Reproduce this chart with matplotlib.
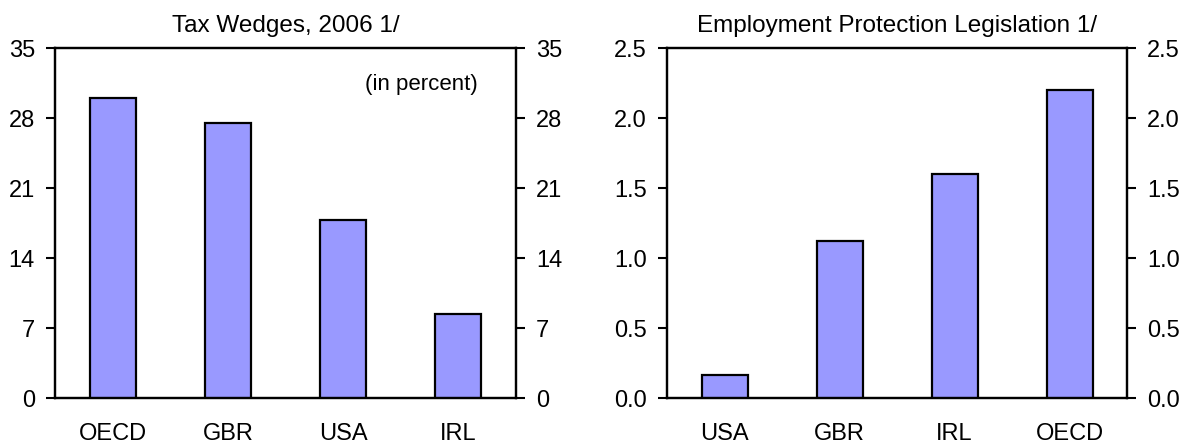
import matplotlib
matplotlib.use("Agg")
import matplotlib.pyplot as plt
import numpy as np

plt.rcParams['font.family'] = ['Liberation Sans', 'DejaVu Sans']

# left panel: tax wedges 2006 (in percent)
tax_countries = ['OECD', 'GBR', 'USA', 'IRL']
tax_values = [30.0, 27.5, 17.8, 8.4]
tax_ticks = [0, 7, 14, 21, 28, 35]

# right panel: employment protection legislation index
epl_countries = ['USA', 'GBR', 'IRL', 'OECD']
epl_values = [0.17, 1.12, 1.60, 2.20]
epl_ticks = [0.0, 0.5, 1.0, 1.5, 2.0, 2.5]

W, H = 1191, 444
fig = plt.figure(figsize=(W / 100, H / 100), dpi=100)

bar_color = '#9999FF'
fs = 17


def panel(rect, names, vals, ticks, fmt, title):
    ax = fig.add_axes(rect)
    x = np.arange(len(names))
    ax.bar(x, vals, width=0.4, color=bar_color, edgecolor='black', linewidth=1.6, zorder=3)
    ax.set_xlim(-0.5, len(names) - 0.5)
    ax.set_ylim(ticks[0], ticks[-1])
    ax.set_xticks(x)
    ax.set_xticklabels(names, fontsize=fs)
    ax.tick_params(axis='x', length=0, pad=18)
    ax.set_yticks(ticks)
    ax.set_yticklabels([fmt.format(t) for t in ticks], fontsize=fs)
    ax.tick_params(axis='y', direction='out', length=6.5, width=1.5, pad=8)
    for s in ax.spines.values():
        s.set_linewidth(1.6)
    # same scale repeated on the right side
    ax2 = ax.twinx()
    ax2.set_ylim(ticks[0], ticks[-1])
    ax2.set_yticks(ticks)
    ax2.set_yticklabels([fmt.format(t) for t in ticks], fontsize=fs)
    ax2.tick_params(axis='y', direction='out', length=6.5, width=1.5, pad=8)
    for s in ax2.spines.values():
        s.set_linewidth(1.6)
    ax.set_title(title, fontsize=17.5, pad=12)
    return ax


ax1 = panel([55 / W, 45.7 / H, 461 / W, 350 / H], tax_countries, tax_values,
            tax_ticks, '{:d}', 'Tax Wedges, 2006 1/')
ax1.text(2.68, 30.8, '(in percent)', fontsize=16, ha='center', va='baseline')

ax2 = panel([667 / W, 45.7 / H, 460 / W, 350 / H], epl_countries, epl_values,
            epl_ticks, '{:.1f}', 'Employment Protection Legislation 1/')

fig.savefig('out.png', dpi=100)
